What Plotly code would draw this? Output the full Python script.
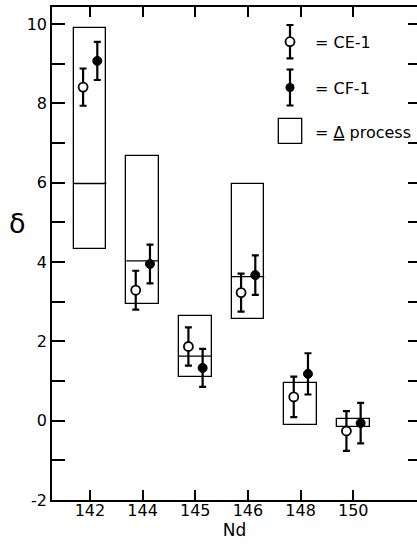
import plotly.graph_objects as go

# ---- data ----
isotopes = ["142", "144", "145", "146", "148", "150"]
ce1_delta = [8.41, 3.29, 1.87, 3.23, 0.60, -0.26]
ce1_err = [0.47, 0.49, 0.48, 0.48, 0.51, 0.50]
cf1_delta = [9.07, 3.95, 1.33, 3.67, 1.18, -0.06]
cf1_err = [0.48, 0.49, 0.48, 0.50, 0.52, 0.51]
proc_top = [9.90, 6.68, 2.64, 5.98, 0.96, 0.05]
proc_bottom = [4.33, 2.93, 1.09, 2.57, -0.12, -0.16]
proc_mid = [5.98, 4.03, 1.63, 3.63, None, None]
y_ticks = [-2, 0, 2, 4, 6, 8, 10]
y_ticktext = ["-2", "0", "2", "4", "6", "8", "10"]

pos = list(range(len(isotopes)))
CE_OFF, CF_OFF = -0.13, 0.14
BOX_W = 0.62

FONT = "DejaVu Sans"
W, H = 417, 554
ML, MR, MT, MB = 52, 0, 7, 54
fig = go.Figure()

# process boxes
fig.add_trace(go.Bar(
    x=pos, y=[t - b for t, b in zip(proc_top, proc_bottom)], base=proc_bottom,
    width=BOX_W, marker=dict(color="rgba(0,0,0,0)", line=dict(color="black", width=1.3)),
    showlegend=False, hoverinfo="skip"))

# middle lines of boxes
mx, my = [], []
for p, m in zip(pos, proc_mid):
    if m is None:
        continue
    mx += [p - BOX_W / 2, p + BOX_W / 2, None]
    my += [m, m, None]
fig.add_trace(go.Scatter(x=mx, y=my, mode="lines", line=dict(color="black", width=1.3),
                         showlegend=False, hoverinfo="skip"))

# CE-1 open circles
fig.add_trace(go.Scatter(
    x=[p + CE_OFF for p in pos], y=ce1_delta, mode="markers",
    marker=dict(symbol="circle", size=9, color="white", line=dict(color="black", width=1.8)),
    error_y=dict(type="data", array=ce1_err, color="black", thickness=2.2, width=3.5),
    showlegend=False))

# CF-1 filled circles
fig.add_trace(go.Scatter(
    x=[p + CF_OFF for p in pos], y=cf1_delta, mode="markers",
    marker=dict(symbol="circle", size=9, color="black", line=dict(color="black", width=1)),
    error_y=dict(type="data", array=cf1_err, color="black", thickness=2.2, width=3.5),
    showlegend=False))

# ---- custom legend on a pixel-coordinate overlay ----
fig.add_trace(go.Scatter(
    x=[290], y=[41.7], mode="markers", xaxis="x2", yaxis="y3",
    marker=dict(symbol="circle", size=9, color="white", line=dict(color="black", width=1.8)),
    error_y=dict(type="data", array=[16.7], color="black", thickness=2.2, width=3.5),
    showlegend=False, hoverinfo="skip"))
fig.add_trace(go.Scatter(
    x=[290], y=[87.5], mode="markers", xaxis="x2", yaxis="y3",
    marker=dict(symbol="circle", size=9, color="black"),
    error_y=dict(type="data", array=[18], color="black", thickness=2.2, width=3.5),
    showlegend=False, hoverinfo="skip"))

fig.add_shape(type="rect", xref="x2", yref="y3", x0=278.3, x1=301.7, y0=118.3, y1=143.3,
              line=dict(color="black", width=1.3))

for txt, yy in [("= CE-1", 42), ("= CF-1", 88), ("= <u>Δ</u> process", 132)]:
    fig.add_annotation(x=313, y=yy, xref="x2", yref="y3", text=txt, showarrow=False,
                       xanchor="left", yanchor="middle",
                       font=dict(family=FONT, size=16, color="black"))

# y-axis symbol (paper coords computed from pixel position)
pw, ph = W - ML - MR, H - MT - MB
fig.add_annotation(x=(17 - ML) / pw, y=(H - MB - 224) / ph, xref="paper", yref="paper",
                   text="δ", showarrow=False, xanchor="center", yanchor="middle",
                   font=dict(family=FONT, size=27, color="black"))

fig.update_layout(
    width=W, height=H,
    margin=dict(l=ML, r=MR, t=MT, b=MB),
    paper_bgcolor="white", plot_bgcolor="white",
    font=dict(family=FONT, size=16, color="black"),
    bargap=0,
    xaxis=dict(range=[-0.72, 6.21], tickvals=pos, ticktext=isotopes,
               ticks="inside", ticklen=10, tickwidth=1.5, tickcolor="black",
               ticklabelstandoff=-5,
               showline=True, linewidth=1.5, linecolor="black", mirror="ticks",
               showgrid=False, zeroline=False,
               title=dict(text="Nd", font=dict(family=FONT, size=17), standoff=0)),
    yaxis=dict(range=[-2, 10.43], tickvals=y_ticks, ticktext=y_ticktext,
               ticks="inside", ticklen=13, tickwidth=1.5, tickcolor="black",
               minor=dict(dtick=1, tick0=-2, ticks="inside", ticklen=13, tickwidth=1.5,
                          tickcolor="black", showgrid=False),
               showline=True, linewidth=1.5, linecolor="black",
               showgrid=False, zeroline=False),
    yaxis2=dict(range=[-2, 10.43], overlaying="y", side="right", anchor="x",
                tick0=-2, dtick=1, ticks="inside", ticklen=9, tickwidth=1.5,
                tickcolor="black", showticklabels=False, showline=False,
                showgrid=False, zeroline=False),
    xaxis2=dict(range=[ML, W - MR], overlaying="x", visible=False, fixedrange=True),
    yaxis3=dict(range=[H - MB, MT], overlaying="y", visible=False, fixedrange=True),
    showlegend=False,
)

# ensure the secondary right axis is attached by a dummy invisible trace
fig.add_trace(go.Scatter(x=[None], y=[None], yaxis="y2", showlegend=False, hoverinfo="skip"))

fig.write_html("out.html", config={"displayModeBar": False},
               post_script="document.body.style.margin='0';document.body.style.overflow='hidden';")
